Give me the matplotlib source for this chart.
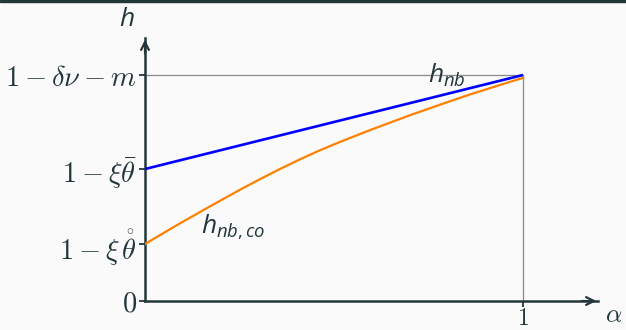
import matplotlib
matplotlib.use("Agg")
import matplotlib.pyplot as plt
from matplotlib.patches import Rectangle

plt.rcParams['mathtext.fontset'] = 'custom'
plt.rcParams['mathtext.it'] = 'Open Sans:italic'
plt.rcParams['mathtext.rm'] = 'Open Sans'
plt.rcParams['font.family'] = ['Open Sans', 'DejaVu Sans']

# data
h_top = 1.0          # 1 - delta nu - m
h_bar = 0.584        # 1 - xi theta_bar
h_ring = 0.252       # 1 - xi theta_ring
blue_x = [0.0, 1.0]
blue_y = [h_bar, h_top]
orange_x = [0.0, 0.040, 0.093, 0.146, 0.198, 0.251, 0.304, 0.357, 0.410, 0.463,
            0.516, 0.595, 0.648, 0.701, 0.754, 0.807, 0.860, 0.913, 0.966, 1.0]
orange_y = [0.252, 0.292, 0.344, 0.394, 0.443, 0.492, 0.539, 0.584, 0.627, 0.667,
            0.704, 0.756, 0.789, 0.822, 0.853, 0.884, 0.914, 0.942, 0.970, 0.987]
ytick_vals = [0.0, h_ring, h_bar, h_top]
ytick_labels = [r'$0$', r'$1-\xi\,\mathring{\theta}$', r'$1-\xi\bar{\theta}$', r'$1-\delta\nu-m$']
xtick_vals = [1.0]
xtick_labels = [r'$1$']

DARK = '#23373b'
BG = '#fafafa'

fig = plt.figure(figsize=(6.26, 3.30), dpi=100, facecolor=BG)
fig.patches.append(Rectangle((0, 1 - 2/330), 1, 2/330, transform=fig.transFigure,
                             color=DARK, zorder=10))

W, H = 626, 330
x0, y0 = 145, 301
xend, yend = 598, 38
ux, uy = 378, 226
ax = fig.add_axes([x0/W, (H - y0)/H, (xend - x0)/W, (y0 - yend)/H])
ax.set_facecolor(BG)
ax.set_xlim(0, (xend - x0)/ux)
ax.set_ylim(0, (y0 - yend)/uy)
for s in ['top', 'right']:
    ax.spines[s].set_visible(False)
for s in ['left', 'bottom']:
    ax.spines[s].set_color(DARK)
    ax.spines[s].set_linewidth(1.8)

# arrow heads
ax.annotate('', xy=((xend - x0)/ux + 0.003, 0), xytext=((xend - x0)/ux - 0.05, 0),
            arrowprops=dict(arrowstyle='->', color=DARK, lw=1.6, mutation_scale=14),
            annotation_clip=False)
ax.annotate('', xy=(0, (y0 - yend)/uy + 0.005), xytext=(0, (y0 - yend)/uy - 0.08),
            arrowprops=dict(arrowstyle='->', color=DARK, lw=1.6, mutation_scale=14),
            annotation_clip=False)

# guide lines
ax.plot([0, 1], [h_top, h_top], color='#8a8a8a', lw=0.9, zorder=1)
ax.plot([1, 1], [0, h_top], color='#8a8a8a', lw=0.9, zorder=1)

ax.plot(orange_x, orange_y, color='#ff8000', lw=1.6, zorder=3, solid_joinstyle='round')
ax.plot(blue_x, blue_y, color='#0000ff', lw=1.9, zorder=4, solid_capstyle='butt')

ax.set_yticks(ytick_vals)
ax.set_yticklabels(ytick_labels)
ax.set_xticks(xtick_vals)
ax.set_xticklabels(xtick_labels)
ax.tick_params(axis='both', direction='out', length=4, width=1.3, color=DARK,
               labelcolor=DARK, labelsize=20.5)
ax.tick_params(axis='y', pad=2)
ax.tick_params(axis='x', pad=0, labelsize=17)
for t in ax.get_yticklabels() + ax.get_xticklabels():
    t.set_math_fontfamily('cm')

ax.text(-18/ux, (y0 - 19)/uy, r'$h$', fontsize=19, color=DARK, ha='center', va='center')
ax.text((614 - x0)/ux, (y0 - 316)/uy, r'$\alpha$', fontsize=18.5, color=DARK,
        ha='center', va='center', math_fontfamily='cm')
ax.text((447 - x0)/ux, (y0 - 75)/uy, r'$h_{nb}$', fontsize=19, color=DARK,
        ha='center', va='center')
ax.text((233 - x0)/ux, (y0 - 227)/uy, r'$h_{nb,co}$', fontsize=19, color=DARK,
        ha='center', va='center')

fig.savefig('out.png', dpi=100, facecolor=BG)
